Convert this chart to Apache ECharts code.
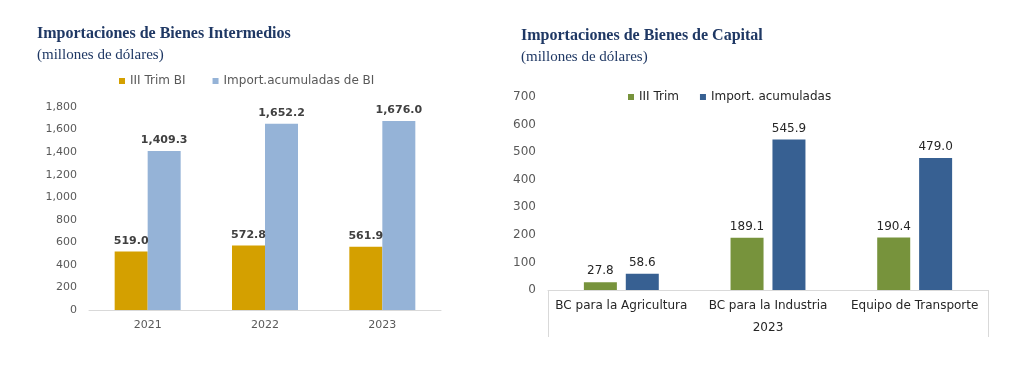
<!DOCTYPE html>
<html><head><meta charset="utf-8">
<script src="https://cdn.jsdelivr.net/npm/echarts@6/dist/echarts.min.js"></script>
<style>html,body{margin:0;padding:0;background:#fff}#c{width:1027px;height:376px}</style>
</head><body><div id="c"></div>
<script>
const biYears = ['2021', '2022', '2023'];
const biTrim = [519.0, 572.8, 561.9];
const biAcum = [1409.3, 1652.2, 1676.0];
const bcCats = ['BC para la Agricultura', 'BC para la Industria', 'Equipo de Transporte'];
const bcYear = ['2023'];
const bcTrim = [27.8, 189.1, 190.4];
const bcAcum = [58.6, 545.9, 479.0];
const biNames = ['III Trim BI', 'Import.acumuladas de BI'];
const bcNames = ['III Trim', 'Import. acumuladas'];

const FONT = 'DejaVu Sans';
const SERIF = 'Liberation Serif';
const fmt = v => v.toLocaleString('en-US', {minimumFractionDigits: 1, maximumFractionDigits: 1});
const fmtAxis = v => v.toLocaleString('en-US');

const chart = echarts.init(document.getElementById('c'));
chart.setOption({
  animation: false,
  backgroundColor: '#fff',
  title: [
    {text: 'Importaciones de Bienes Intermedios', subtext: '(millones de dólares)', left: 32, top: 21, itemGap: 6,
     textStyle: {fontFamily: SERIF, fontSize: 16, fontWeight: 'bold', color: '#1F3864'},
     subtextStyle: {fontFamily: SERIF, fontSize: 15, color: '#1F3864'}},
    {text: 'Importaciones de Bienes de Capital', subtext: '(millones de dólares)', left: 516, top: 23, itemGap: 6,
     textStyle: {fontFamily: SERIF, fontSize: 16, fontWeight: 'bold', color: '#1F3864'},
     subtextStyle: {fontFamily: SERIF, fontSize: 15, color: '#1F3864'}}
  ],
  legend: [
    {data: biNames, left: 114, top: 70, icon: 'rect', itemWidth: 6, itemHeight: 6, itemGap: 27,
     textStyle: {fontFamily: FONT, fontSize: 12, color: '#595959'}},
    {data: bcNames, left: 623, top: 86, icon: 'rect', itemWidth: 6, itemHeight: 6, itemGap: 21,
     textStyle: {fontFamily: FONT, fontSize: 12, color: '#262626'}}
  ],
  grid: [
    {left: 89, top: 107, width: 352, height: 203, containLabel: false},
    {left: 548, top: 97, width: 440, height: 193, containLabel: false}
  ],
  xAxis: [
    {type: 'category', gridIndex: 0, data: biYears,
     axisLine: {lineStyle: {color: '#D9D9D9'}}, axisTick: {show: false},
     axisLabel: {fontFamily: FONT, fontSize: 11, color: '#595959', margin: 10}},
    {type: 'category', gridIndex: 1, data: bcCats, position: 'bottom',
     axisLine: {lineStyle: {color: '#D9D9D9'}}, axisTick: {show: false},
     axisLabel: {fontFamily: FONT, fontSize: 12, color: '#262626', margin: 10, interval: 0}},
    {type: 'category', gridIndex: 1, data: bcYear, position: 'bottom',
     axisLine: {show: false},
     axisTick: {show: true, length: 47, lineStyle: {color: '#D9D9D9'}},
     axisLabel: {fontFamily: FONT, fontSize: 12, color: '#262626', margin: 32}}
  ],
  yAxis: [
    {type: 'value', gridIndex: 0, min: 0, max: 1800, interval: 200,
     axisLine: {show: false}, axisTick: {show: false}, splitLine: {show: false},
     axisLabel: {fontFamily: FONT, fontSize: 11, color: '#595959', margin: 12, formatter: fmtAxis}},
    {type: 'value', gridIndex: 1, min: 0, max: 700, interval: 100,
     axisLine: {show: false}, axisTick: {show: false}, splitLine: {show: false},
     axisLabel: {fontFamily: FONT, fontSize: 12, color: '#595959', margin: 12}}
  ],
  series: [
    {name: biNames[0], type: 'bar', xAxisIndex: 0, yAxisIndex: 0, data: biTrim, barWidth: 33, barGap: '0%',
     itemStyle: {color: '#D4A000'},
     label: {show: true, position: 'top', distance: 5, formatter: p => fmt(p.value),
             fontFamily: FONT, fontSize: 11, fontWeight: 'bold', color: '#404040'}},
    {name: biNames[1], type: 'bar', xAxisIndex: 0, yAxisIndex: 0, data: biAcum, barWidth: 33, barGap: '0%',
     itemStyle: {color: '#95B3D7'},
     label: {show: true, position: 'top', distance: 5, formatter: p => fmt(p.value),
             fontFamily: FONT, fontSize: 11, fontWeight: 'bold', color: '#404040'}},
    {name: bcNames[0], type: 'bar', xAxisIndex: 1, yAxisIndex: 1, data: bcTrim, barWidth: 33, barGap: '27%',
     itemStyle: {color: '#77933C'},
     label: {show: true, position: 'top', distance: 5, formatter: p => fmt(p.value),
             fontFamily: FONT, fontSize: 12, color: '#262626'}},
    {name: bcNames[1], type: 'bar', xAxisIndex: 1, yAxisIndex: 1, data: bcAcum, barWidth: 33, barGap: '27%',
     itemStyle: {color: '#376092'},
     label: {show: true, position: 'top', distance: 5, formatter: p => fmt(p.value),
             fontFamily: FONT, fontSize: 12, color: '#262626'}}
  ]
});
</script></body></html>
